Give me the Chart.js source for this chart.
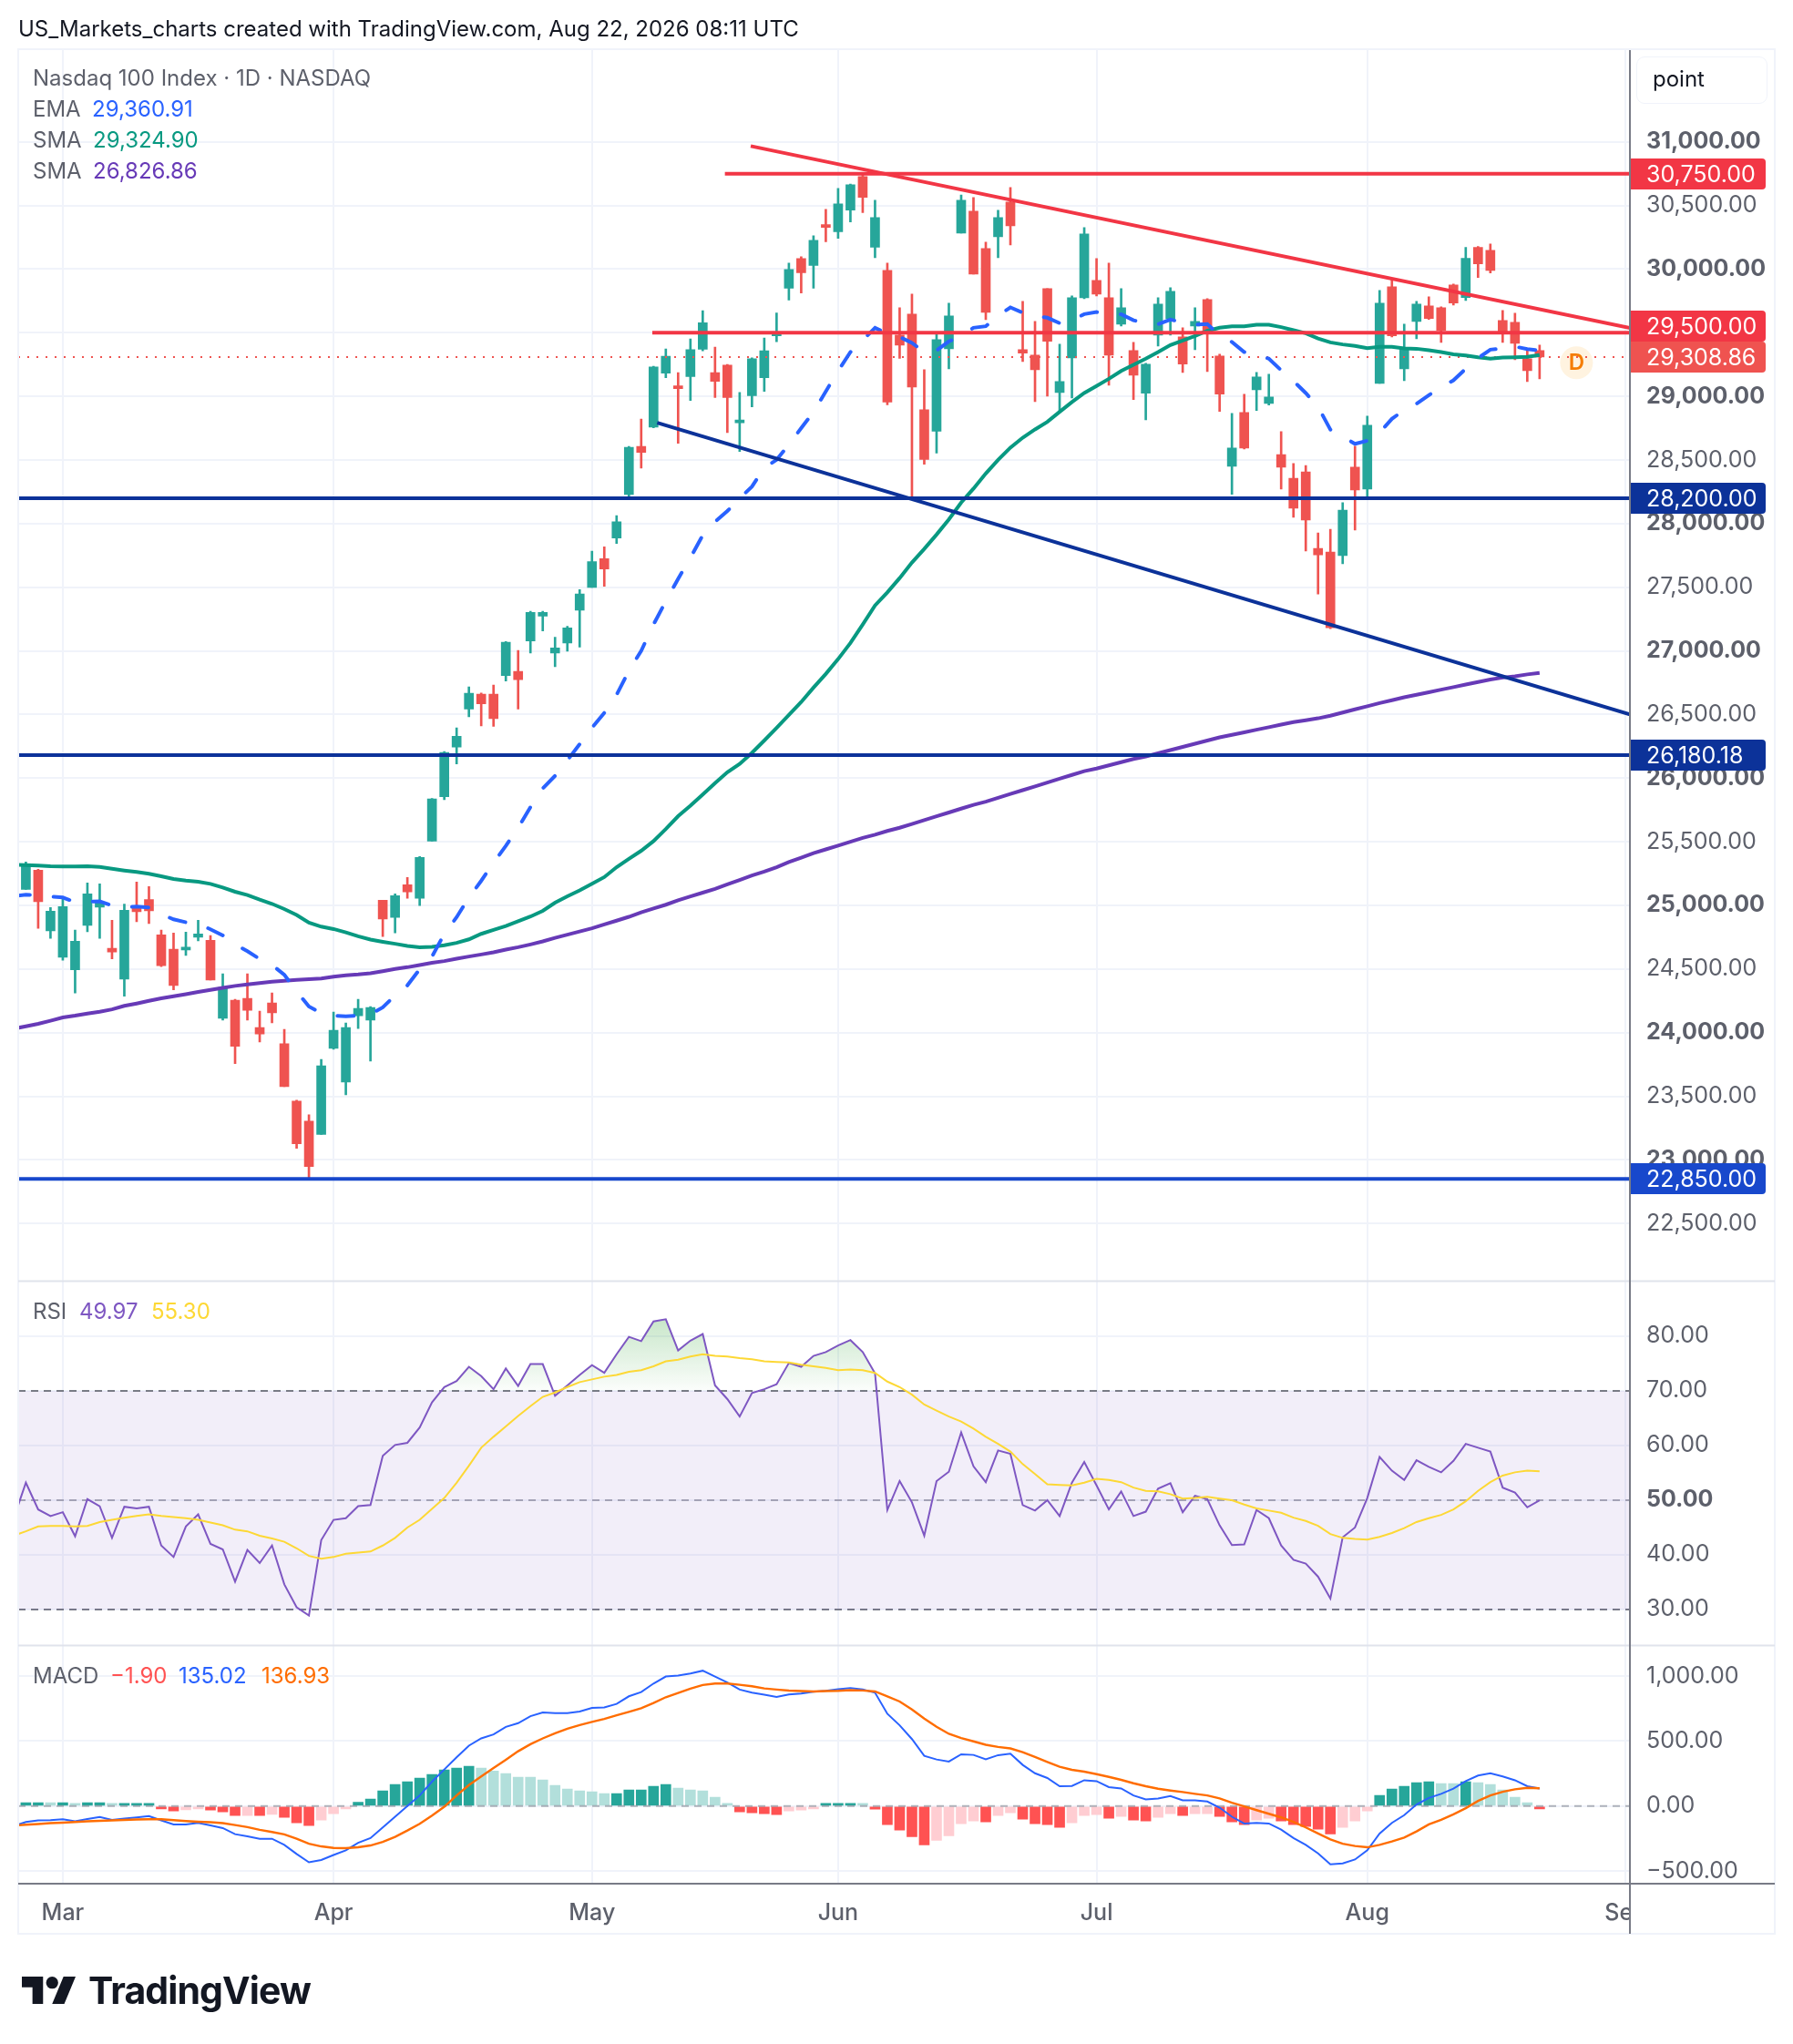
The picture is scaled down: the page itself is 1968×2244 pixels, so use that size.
<!DOCTYPE html>
<html>
<head>
<meta charset="utf-8">
<title>Nasdaq 100 Index</title>
<script src="https://cdn.jsdelivr.net/npm/chart.js@4/dist/chart.umd.js"></script>
<style>
  body { margin: 0; background: #fff; font-family: Inter, "Liberation Sans", sans-serif; }
  #wrap { position: relative; width: 1968px; height: 2244px; overflow: hidden; }
  canvas { position: absolute; left: 0; top: 0; }
  .txt { position: absolute; white-space: pre; font-size: 24px; line-height: 30px; color: #5d606b; }
  #head { left: 20px; top: 17px; color: #131722; }
  #unit { position: absolute; left: 1796px; top: 62px; width: 144px; height: 52px; box-sizing: border-box;
          border: 1.5px solid #f0f3fa; border-radius: 9px; padding: 9px 0 0 17px; font-size: 24px; line-height: 30px; color: #131722; }
  #logo { position: absolute; left: 24px; top: 2170px; width: 59px; height: 30px; }
  #brand { left: 97px; top: 2160px; font-size: 41px; line-height: 50px; font-weight: 700; color: #131722; letter-spacing: -0.9px; }
</style>
</head>
<body>
<div id="wrap">
  <canvas id="grafica" width="1968" height="2244"></canvas>
  <div class="txt" id="head">US_Markets_charts created with TradingView.com, Aug 22, 2026 08:11 UTC</div>
  <div class="txt" style="left:36px;top:71px">Nasdaq 100 Index · 1D · NASDAQ</div>
  <div class="txt" style="left:36px;top:105px">EMA</div>
  <div class="txt" style="left:101px;top:105px;color:#2962ff">29,360.91</div>
  <div class="txt" style="left:36px;top:139px">SMA</div>
  <div class="txt" style="left:102px;top:139px;color:#089981">29,324.90</div>
  <div class="txt" style="left:36px;top:173px">SMA</div>
  <div class="txt" style="left:102px;top:173px;color:#673ab7">26,826.86</div>
  <div class="txt" style="left:36px;top:1425px">RSI</div>
  <div class="txt" style="left:87px;top:1425px;color:#7e57c2">49.97</div>
  <div class="txt" style="left:166px;top:1425px;color:#fdd835">55.30</div>
  <div class="txt" style="left:36px;top:1825px">MACD</div>
  <div class="txt" style="left:121px;top:1825px;color:#ff5252">−1.90</div>
  <div class="txt" style="left:196px;top:1825px;color:#2962ff">135.02</div>
  <div class="txt" style="left:287px;top:1825px;color:#ff6d00">136.93</div>
  <div id="unit">point</div>
  <svg id="logo" viewBox="0 4 35.5 18" preserveAspectRatio="none"><path fill="#131722" d="M14 22H7V11H0V4h14v18zM28 22h-8l7.5-18h8L28 22z"/><circle fill="#131722" cx="20" cy="8" r="4"/></svg>
  <div class="txt" id="brand">TradingView</div>
</div>
<script>
// velas diarias, de finales de febrero al 21 de agosto
const opens = [
  25126,25276,24800,24593,24493,24843,24986,24662,24421,24998,
  25045,24769,24655,24650,24750,24726,24112,24255,24269,24040,
  24233,23912,23462,23305,23200,23876,23612,24133,24098,25040,
  24905,25162,25055,25505,25854,26244,26542,26660,26660,26806,
  26839,27077,27272,26983,27062,27320,27498,27725,27886,28229,
  28606,28758,29183,29073,29155,29370,29186,29245,28792,29005,
  29146,29475,29849,30083,30028,30338,30293,30464,30727,30171,
  29990,29482,29646,28895,28726,29374,30283,30455,30161,30254,
  30526,29367,29324,29847,29031,29303,29775,29911,29775,29567,
  29360,29024,29482,29610,29467,29553,29761,29317,28451,28873,
  29052,28945,28543,28357,28407,27805,27777,27748,28443,28271,
  29102,29861,29217,29589,29711,29697,29876,29776,30170,30148,
  29596,29582,29296,29360
]
const closes = [
  25324,25029,24955,24990,24719,25090,25019,24633,24962,24950,
  24957,24526,24371,24659,24776,24414,24355,23893,24176,23990,
  24155,23576,23126,22948,23740,24019,24040,24190,24198,24893,
  25076,25105,25376,25837,26202,26329,26666,26584,26468,27068,
  26774,27303,27303,27023,27181,27448,27702,27643,28014,28600,
  28560,29231,29316,29061,29367,29579,29118,28990,28812,29296,
  29358,29483,29997,29971,30226,30328,30512,30662,30564,30405,
  28955,29403,29074,28504,29446,29632,30541,29961,29660,30405,
  30340,29339,29210,29432,29117,29775,30276,29804,29324,29696,
  29167,29253,29725,29825,29253,29589,29496,29017,28594,28594,
  29152,28995,28444,28121,28028,27755,27182,28106,28264,28773,
  29733,29475,29374,29725,29611,29518,29733,30084,30041,29990,
  29496,29417,29202,29309
]
const highs = [
  25340,25283,24983,25055,24805,25176,25169,24883,25010,25183,
  25148,24805,24783,24790,24883,24762,24462,24262,24462,24169,
  24312,24026,23469,23355,23790,24162,24076,24262,24205,25040,
  25090,25219,25383,25840,26208,26394,26717,26669,26731,27074,
  27003,27312,27312,27108,27193,27482,27784,27818,28062,28606,
  28821,29237,29373,29186,29452,29673,29387,29251,29030,29302,
  29458,29656,30047,30097,30262,30469,30634,30669,30755,30541,
  30047,29696,29804,29210,29498,29732,30583,30562,30211,30462,
  30641,29746,29589,29847,29410,29789,30326,30083,30047,29847,
  29424,29260,29775,29854,29539,29696,29768,29331,28866,29017,
  29188,29174,28723,28472,28457,27927,27956,28164,28608,28844,
  29833,29926,29568,29747,29783,29704,29883,30170,30177,30198,
  29675,29654,29374,29403
]
const lows = [
  25126,24819,24740,24569,24312,24793,24740,24579,24286,24871,
  24857,24519,24336,24607,24721,24414,24098,23757,24098,23926,
  24076,23576,23090,22843,23200,23869,23512,24033,23776,24755,
  24783,25055,24998,25505,25831,26111,26482,26411,26406,26763,
  26542,26983,27156,26876,26997,27029,27498,27507,27844,28209,
  28436,28753,29146,28631,28968,29358,28990,28716,28566,28917,
  29039,29429,29756,29813,29849,30214,30242,30371,30443,30090,
  28933,29298,28196,28466,28554,29217,30283,29961,29603,30090,
  30190,29274,28959,29002,28888,28988,29768,29789,29088,29553,
  28974,28816,29396,29482,29188,29367,29195,28881,28230,28587,
  28888,28931,28272,28049,27784,27447,27175,27684,27949,28192,
  29102,29467,29124,29453,29604,29424,29718,29754,29933,29969,
  29424,29288,29116,29138
]

// medias: el primer valor es la barra cortada en el borde izquierdo
const emaLine = [
  25074,25083,25081,25069,25062,25026,25029,25031,24998,24986,24990,
  24983,24931,24890,24867,24855,24812,24764,24693,24640,24579,
  24531,24455,24324,24205,24152,24133,24129,24133,24145,24198,
  24293,24371,24498,24598,24776,24907,25062,25193,25336,25467,
  25610,25772,25919,26018,26140,26267,26395,26513,26655,26844,
  27000,27207,27391,27566,27731,27909,28014,28099,28198,28291,
  28438,28501,28622,28750,28877,29039,29200,29348,29440,29539,
  29491,29467,29420,29348,29360,29432,29474,29539,29551,29634,
  29699,29658,29634,29618,29575,29598,29646,29663,29646,29646,
  29598,29575,29567,29603,29582,29563,29568,29480,29427,29348,
  29329,29296,29205,29121,29026,28918,28739,28684,28627,28651,
  28715,28823,28894,28942,29009,29073,29126,29217,29300,29367,
  29377,29391,29372,29361
]
const smaFast = [
  25320,25317,25312,25307,25305,25305,25307,25302,25288,25274,25262,
  25248,25229,25207,25195,25186,25169,25140,25107,25081,25045,
  25012,24971,24924,24864,24833,24814,24788,24757,24731,24714,
  24698,24681,24671,24674,24686,24705,24733,24776,24807,24838,
  24876,24912,24957,25021,25071,25118,25170,25222,25300,25366,
  25429,25505,25600,25701,25783,25871,25961,26046,26111,26199,
  26295,26394,26496,26598,26711,26819,26935,27062,27207,27357,
  27459,27572,27694,27801,27914,28033,28165,28275,28394,28501,
  28597,28675,28740,28800,28878,28955,29026,29081,29138,29200,
  29248,29296,29348,29403,29439,29474,29515,29539,29551,29551,
  29563,29563,29544,29520,29496,29455,29424,29408,29396,29379,
  29389,29389,29377,29374,29362,29348,29331,29322,29307,29296,
  29305,29307,29310,29325
]
const smaSlow = [
  24030,24050,24069,24093,24119,24133,24150,24164,24183,24210,24229,
  24250,24269,24286,24302,24319,24336,24352,24367,24379,24390,
  24400,24407,24414,24419,24426,24440,24450,24457,24467,24483,
  24500,24514,24531,24548,24562,24581,24598,24614,24631,24652,
  24671,24693,24717,24745,24770,24795,24820,24850,24880,24910,
  24945,24975,25005,25040,25070,25100,25130,25165,25200,25235,
  25265,25300,25340,25375,25410,25440,25470,25500,25530,25555,
  25585,25610,25640,25670,25700,25730,25760,25790,25815,25845,
  25875,25905,25935,25965,25995,26025,26055,26075,26100,26125,
  26150,26170,26195,26220,26245,26270,26295,26320,26340,26360,
  26380,26400,26420,26440,26455,26470,26490,26515,26540,26565,
  26590,26612,26635,26655,26675,26695,26715,26735,26755,26775,
  26790,26800,26815,26827
]

// rsi y su media
const rsiLine = [
  46.6,53.2,48.3,47.1,47.8,43.4,50.2,48.9,43.1,48.8,48.5,
  48.8,41.7,39.6,45.2,47.4,42.0,41.0,35.1,40.9,38.5,
  41.7,34.6,30.4,28.9,42.7,46.4,46.7,48.9,49.1,58.1,
  60.1,60.5,63.3,67.9,70.7,71.8,74.4,72.7,70.3,74.1,
  70.9,74.9,74.9,69.1,71.0,72.9,74.7,73.3,76.7,79.9,
  79.1,82.7,83.1,77.4,79.2,80.4,71.0,68.5,65.3,69.6,
  70.3,71.2,75.1,74.4,76.4,77.1,78.3,79.3,77.1,73.2,
  48.2,53.5,49.6,43.5,53.5,55.2,62.4,56.2,53.3,59.1,
  58.5,49.1,48.1,50.0,47.1,53.2,57.0,52.7,48.3,51.6,
  47.1,47.9,52.1,53.1,47.8,50.8,50.2,45.4,41.8,41.9,
  48.2,46.7,41.7,39.1,38.4,36.0,32.0,43.2,45.0,50.4,
  57.9,55.4,53.7,57.3,56.1,55.1,57.2,60.3,59.6,58.9,
  52.3,51.4,48.7,49.97
]
const rsiMa = [
  43.5,44.3,45.2,45.3,45.3,45.2,45.3,46.0,46.4,46.8,47.1,
  47.4,47.1,46.9,46.7,46.4,45.9,45.4,44.6,44.3,43.5,
  43.0,42.4,41.2,39.8,39.3,39.6,40.2,40.4,40.6,41.7,
  43.1,45.0,46.4,48.4,50.4,53.2,56.3,59.6,61.6,63.5,
  65.4,67.2,68.9,69.7,70.7,71.6,72.1,72.6,72.9,73.5,
  73.8,74.5,75.4,75.7,76.3,76.7,76.4,76.3,76.0,75.8,
  75.4,75.3,75.2,74.8,74.5,74.2,73.8,73.9,73.8,73.3,
  71.7,70.7,69.3,67.5,66.4,65.3,64.4,63.1,61.6,60.3,
  58.9,56.6,54.8,52.9,52.8,52.7,53.2,53.9,53.7,53.3,
  52.3,51.7,51.6,51.1,50.3,50.4,50.6,50.3,50.0,49.2,
  48.5,48.1,47.7,46.8,46.2,45.3,43.8,43.1,42.9,42.8,
  43.3,44.0,44.9,46.0,46.7,47.3,48.3,49.8,51.7,53.3,
  54.5,55.1,55.4,55.3
]

// macd
const macdLine = [
  -153,-122,-110,-108,-101,-117,-99,-84,-106,-96,-87,
  -77,-110,-141,-141,-129,-148,-169,-216,-232,-251,
  -251,-298,-368,-432,-415,-376,-340,-282,-246,-164,
  -82,0,82,188,282,376,465,521,552,610,
  638,692,721,716,716,728,756,760,786,845,
  878,943,997,1005,1021,1042,997,951,897,873,
  857,840,859,866,880,887,899,908,897,873,
  711,622,516,387,359,343,399,394,361,392,
  404,317,253,216,153,155,199,192,146,136,
  82,52,59,77,45,45,35,-12,-82,-134,
  -129,-134,-181,-246,-298,-364,-448,-441,-411,-340,
  -211,-129,-70,12,63,94,134,192,235,253,
  228,199,153,135
]
const signalLine = [
  -150,-143,-138,-131,-127,-122,-117,-113,-110,-106,-103,
  -101,-101,-108,-115,-120,-124,-131,-146,-162,-183,
  -199,-218,-251,-289,-310,-322,-324,-317,-303,-275,
  -237,-188,-136,-73,-5,82,162,228,293,357,
  422,476,521,561,596,624,648,671,699,725,
  753,793,838,871,904,932,943,943,934,922,
  906,897,889,885,882,885,887,892,890,882,
  845,805,744,674,610,556,523,498,472,455,
  444,415,378,340,303,279,265,246,225,202,
  176,153,134,120,108,94,82,59,26,-2,
  -31,-59,-87,-122,-164,-211,-256,-289,-307,-317,
  -298,-272,-242,-195,-141,-106,-63,-16,40,82,
  110,129,141,137
]
const histValues = [
  26,26,26,26,12,26,26,5,12,19,
  19,-7,-38,-28,-16,-31,-45,-73,-73,-73,
  -63,-87,-129,-150,-108,-59,-16,30,54,117,
  167,188,216,244,279,293,307,293,270,251,
  223,223,202,160,131,117,110,96,96,124,
  124,153,167,138,124,117,68,19,-45,-52,
  -59,-66,-38,-31,-16,5,12,19,5,-23,
  -143,-185,-235,-298,-263,-228,-136,-115,-122,-73,
  -52,-101,-136,-143,-164,-129,-73,-66,-94,-80,
  -108,-115,-87,-59,-73,-59,-59,-80,-122,-143,
  -108,-94,-115,-143,-157,-178,-214,-164,-115,-38,
  82,131,153,181,188,174,174,188,181,167,
  124,68,26,-2
]
// 1 barra oscura, 0 barra clara
const histStrong = [
  1,1,0,1,0,1,1,0,1,1,
  1,1,1,0,0,1,1,1,0,1,
  0,1,1,1,0,0,0,1,1,1,
  1,1,1,1,1,1,1,0,0,0,
  0,0,0,0,0,0,0,0,1,1,
  1,1,1,0,0,0,0,0,1,1,
  1,1,0,0,0,1,1,1,0,1,
  1,1,1,1,0,0,0,0,1,0,
  0,1,1,1,1,0,0,0,1,0,
  1,1,0,0,1,0,0,1,1,1,
  0,0,1,1,1,1,1,0,0,0,
  1,1,1,1,1,0,0,1,0,0,
  0,0,0,1
]

// ejes
const priceTicks = [22500,23000,23500,24000,24500,25000,25500,26000,26500,27000,27500,28000,28500,29000,29500,30000,30500,31000]
const rsiTicks = [30,40,50,60,70,80]
const macdTicks = [-500,0,500,1000]
const monthTicks = [3,25,46,66,87,109,130]
const monthLabels = ['Mar','Apr','May','Jun','Jul','Aug','Sep']

// etiquetas de color del eje de precios (tagSpots: donde queda cada una, la de 29,500 sube para no pisar la otra)
const tagSpots = [30750,29554,29308.86,28200,26180.18,22850]
const tagLabels = ['30,750.00','29,500.00','29,308.86','28,200.00','26,180.18','22,850.00']
const tagColors = ['#f23645','#f23645','#ef5350','#0c3299','#0c3299','#1848cc']

// limites de los paneles y del eje de tiempo
const xMin = -0.622, xMax = 130.34
const lastPrice = 29308.86
const dMark = [126, 29264]

// lineas dibujadas a mano sobre el grafico
const redFall = [[58.9,30967],[130.34,29537]]
const red30750 = [[56.8,30750],[130.34,30750]]
const red29500 = [[50.9,29500],[130.34,29500]]
const navyFall = [[51.3,28792],[130.34,26501]]
const navy28200 = [[xMin,28200],[xMax,28200]]
const navy26180 = [[xMin,26180.18],[xMax,26180.18]]
const blue22850 = [[xMin,22850],[xMax,22850]]

const GREEN = '#26a69a', RED = '#ef5350'

const pts = (arr, start) => arr.map((v, i) => ({x: i + start, y: v}))
const seg = arr => arr.map(p => ({x: p[0], y: p[1]}))
const candleColor = opens.map((o, i) => closes[i] >= o ? GREEN : RED)

function trazo(data, color, width, yAxisID, extra) {
    return Object.assign({type: 'line', data, borderColor: color, borderWidth: width, pointRadius: 0,
        tension: 0, fill: false, yAxisID, order: 3}, extra)
}
const nivel = v => [{x: xMin, y: v}, {x: xMax, y: v}]

const datasets = [
    // mechas y cuerpos
    {type: 'bar', yAxisID: 'yPrice', grouped: false, barThickness: 2, order: 12,
     data: lows.map((l, i) => ({x: i, y: [l, highs[i]]})), backgroundColor: candleColor},
    {type: 'bar', yAxisID: 'yPrice', grouped: false, barThickness: 10, minBarLength: 3, order: 11,
     data: opens.map((o, i) => ({x: i, y: [o, closes[i]]})), backgroundColor: candleColor},
    trazo(pts(smaSlow, -1), '#673ab7', 4, 'yPrice', {order: 6}),
    trazo(pts(smaFast, -1), '#089981', 4, 'yPrice', {order: 5}),
    trazo(pts(emaLine, -1), '#2962ff', 4, 'yPrice', {order: 4, borderDash: [18, 26], borderCapStyle: 'round'}),
    trazo(nivel(lastPrice), '#ef5350', 2, 'yPrice', {order: 7, borderDash: [2, 8]}),
    trazo(seg(redFall), '#f23645', 4, 'yPrice'),
    trazo(seg(red30750), '#f23645', 4, 'yPrice'),
    trazo(seg(red29500), '#f23645', 4, 'yPrice'),
    trazo(seg(navyFall), '#0c3299', 4, 'yPrice'),
    trazo(seg(navy28200), '#0c3299', 4, 'yPrice'),
    trazo(seg(navy26180), '#0c3299', 4, 'yPrice'),
    trazo(seg(blue22850), '#1848cc', 4, 'yPrice'),
    {type: 'line', yAxisID: 'yPrice', showLine: false, order: 8, data: [{x: dMark[0], y: dMark[1]}],
     pointRadius: 18, pointBackgroundColor: '#fff3e0', pointBorderWidth: 0},
    // panel rsi
    trazo(nivel(70), '#787b86', 2, 'yRsi', {order: 9, borderDash: [8, 6],
        fill: {target: {value: 30}, above: 'rgba(126,87,194,0.1)'}}),
    trazo(nivel(30), '#787b86', 2, 'yRsi', {order: 9, borderDash: [8, 6]}),
    trazo(nivel(50), 'rgba(120,123,134,0.6)', 2, 'yRsi', {order: 9, borderDash: [8, 6]}),
    trazo(pts(rsiLine, -1), '#7e57c2', 2, 'yRsi', {order: 2, fill: {target: {value: 70}, above: 'transparent', below: 'transparent'}}),
    trazo(pts(rsiMa, -1), '#fdd835', 2, 'yRsi', {order: 1}),
    // panel macd
    {type: 'bar', yAxisID: 'yMacd', grouped: false, barThickness: 11, minBarLength: 3, order: 6,
     data: histValues.map((v, i) => ({x: i, y: v})),
     backgroundColor: histValues.map((v, i) => v >= 0
        ? (histStrong[i] ? '#26a69a' : '#b2dfdb')
        : (histStrong[i] ? '#ff5252' : '#ffcdd2'))},
    trazo(nivel(0), 'rgba(120,123,134,0.55)', 2, 'yMacd', {order: 5, borderDash: [8, 6]}),
    trazo(pts(macdLine, -1), '#2962ff', 2, 'yMacd', {order: 2}),
    trazo(pts(signalLine, -1), '#ff6d00', 2.4, 'yMacd', {order: 1})
]
const rsiDataset = datasets[17]

function ejeY(ticksList, min, max, weight, boldFn, fmt) {
    return {
        type: 'linear', position: 'right', stack: 'panes', stackWeight: weight, min, max,
        border: {display: false},
        grid: {color: '#f0f3fa', lineWidth: 2, drawTicks: false},
        afterBuildTicks: scale => { scale.ticks = ticksList.map(v => ({value: v})) },
        afterFit: scale => { scale.width = 159 },
        ticks: {
            autoSkip: false, padding: 18, color: '#5d606b', crossAlign: 'near',
            font: ctx => ({family: 'Inter', size: 25, weight: ctx.tick && boldFn(ctx.tick.value) ? '700' : '400'}),
            callback: fmt
        }
    }
}
const dosDec = v => (v < 0 ? '−' : '') + Math.abs(v).toLocaleString('en-US', {minimumFractionDigits: 2, maximumFractionDigits: 2})

// marco, eje derecho, etiquetas y la "D"
const marco = {
    id: 'marco',
    afterDraw(chart) {
        const {ctx, chartArea: a, scales} = chart
        const right = 1948, bottom = 2123
        ctx.save()
        // la etiqueta Sep queda cortada por el eje
        ctx.fillStyle = '#fff'
        ctx.fillRect(a.right, a.bottom + 2, right - a.right, bottom - a.bottom - 3)
        const linea = (x0, y0, x1, y1, color) => {
            ctx.strokeStyle = color
            ctx.lineWidth = 2
            ctx.beginPath(); ctx.moveTo(x0, y0); ctx.lineTo(x1, y1); ctx.stroke()
        }
        ctx.strokeStyle = '#f0f3fa'
        ctx.lineWidth = 2
        ctx.strokeRect(a.left, a.top - 1, right - a.left, bottom - a.top + 1)
        linea(a.left, scales.yRsi.top, right, scales.yRsi.top, '#e0e3eb')
        linea(a.left, scales.yMacd.top, right, scales.yMacd.top, '#e0e3eb')
        linea(a.left, a.bottom, right, a.bottom, '#787b86')
        linea(a.right, a.top, a.right, bottom, '#787b86')

        tagSpots.forEach((v, i) => {
            const y = Math.round(scales.yPrice.getPixelForValue(v))
            ctx.fillStyle = tagColors[i]
            ctx.beginPath()
            ctx.roundRect(a.right + 1, y - 17, 148, 34, [0, 4, 4, 0])
            ctx.fill()
            ctx.fillStyle = '#fff'
            ctx.font = '25px Inter'
            ctx.textAlign = 'left'
            ctx.textBaseline = 'middle'
            ctx.fillText(tagLabels[i], 1807, y + 1)
        })

        ctx.fillStyle = '#f57c00'
        ctx.font = '600 24px Inter'
        ctx.textAlign = 'center'
        ctx.textBaseline = 'middle'
        ctx.fillText('D', scales.x.getPixelForValue(dMark[0]), scales.yPrice.getPixelForValue(dMark[1]) + 1)
        ctx.restore()
    }
}

const myChart = new Chart(document.querySelector('#grafica'), {
    data: {datasets},
    plugins: [marco],
    options: {
        responsive: false,
        animation: false,
        events: [],
        layout: {autoPadding: false, padding: {left: 20, top: 55, right: 20, bottom: 121}},
        plugins: {legend: {display: false}, tooltip: {enabled: false}},
        scales: {
            x: {
                type: 'linear', min: xMin, max: xMax, offset: false,
                border: {display: false},
                grid: {color: '#f0f3fa', lineWidth: 2, drawTicks: false, offset: false},
                afterBuildTicks: scale => { scale.ticks = monthTicks.map(v => ({value: v})) },
                afterFit: scale => { scale.height = 55 },
                ticks: {
                    autoSkip: false, maxRotation: 0, padding: 17, color: '#5d606b',
                    font: {family: 'Inter', size: 25, weight: '500'},
                    callback: v => monthLabels[monthTicks.indexOf(v)]
                }
            },
            yPrice: ejeY(priceTicks, 22047, 31721, 1351.7, v => v % 1000 === 0, dosDec),
            yRsi: ejeY(rsiTicks, 23.42, 90.08, 400, v => v === 50, dosDec),
            yMacd: ejeY(macdTicks, -597, 1236.4, 261.6, () => false, dosDec)
        }
    }
})

// degradado verde de la zona de sobrecompra, se necesita la escala ya colocada
const yR = myChart.scales.yRsi
const grad = myChart.ctx.createLinearGradient(0, yR.getPixelForValue(83), 0, yR.getPixelForValue(70))
grad.addColorStop(0, 'rgba(76,175,80,0.30)')
grad.addColorStop(1, 'rgba(76,175,80,0.02)')
rsiDataset.fill.above = grad
myChart.update('none')
</script>
</body>
</html>
